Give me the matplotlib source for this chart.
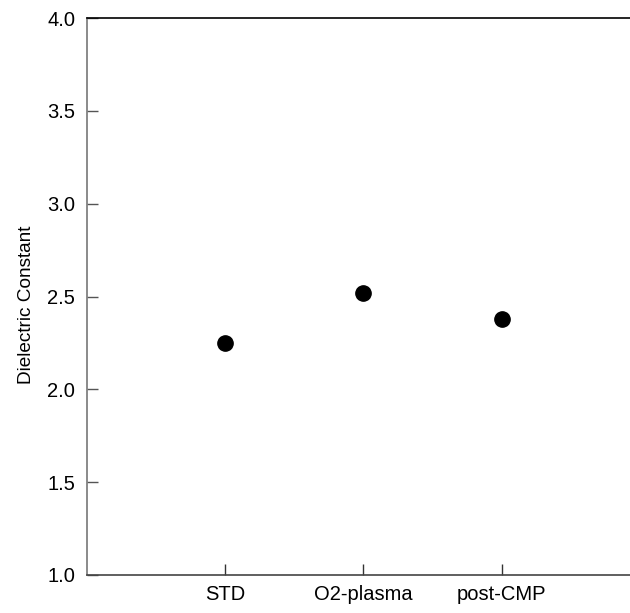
import matplotlib
matplotlib.use('Agg')
import matplotlib.pyplot as plt

categories = ["STD", "O2-plasma", "post-CMP"]
dielectric = [2.25, 2.52, 2.38]
yticks = [1.0, 1.5, 2.0, 2.5, 3.0, 3.5, 4.0]

plt.rcParams['font.family'] = ['Liberation Sans', 'DejaVu Sans']

fig = plt.figure(figsize=(6.3, 6.13), dpi=100)
ax = fig.add_axes([87 / 630, 1 - 575 / 613, 1 - 87 / 630, 557 / 613])

xs = list(range(1, len(categories) + 1))
ax.plot(xs, dielectric, 'o', color='black', markersize=11, linestyle='none', clip_on=False)

ax.set_xlim(0, 3.93)
ax.set_ylim(1.0, 4.0)
ax.set_xticks(xs)
ax.set_xticklabels(categories)
ax.set_yticks(yticks)
ax.set_yticklabels([f"{v:.1f}" for v in yticks])

ax.tick_params(axis='both', direction='in', length=8, width=1, labelsize=14.5)
ax.tick_params(axis='y', colors='#555555', labelcolor='black', pad=8.5)
ax.tick_params(axis='x', colors='#333333', labelcolor='black', pad=7.5)

ax.spines['right'].set_visible(False)
ax.spines['top'].set_color('black')
ax.spines['left'].set_color('#777777')
ax.spines['bottom'].set_color('#444444')
for s in ax.spines.values():
    s.set_linewidth(1.2)

ax.set_ylabel("Dielectric Constant", fontsize=13.7)
ax.yaxis.set_label_coords(-52 / 543, 0.485)

fig.savefig("out.png", dpi=100)
